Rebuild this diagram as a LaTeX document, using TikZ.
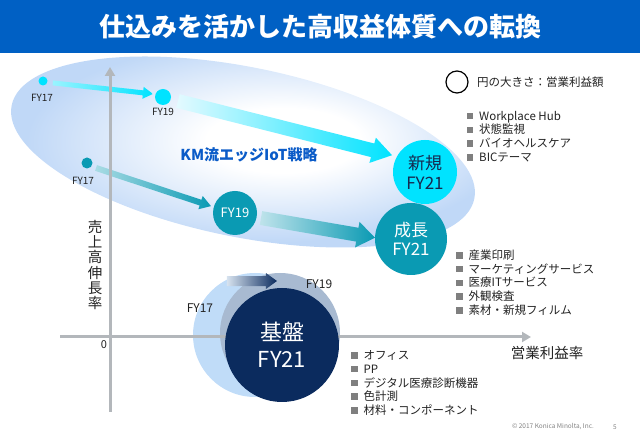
\documentclass[tikz,border=0pt]{standalone}
\usepackage{fontspec}
\setmainfont{Noto Sans CJK JP}
\usepackage{tikz}
\usetikzlibrary{arrows.meta,calc}
\definecolor{titlebg}{HTML}{0060C4}
\definecolor{ellblue}{HTML}{C0D8F7}
\definecolor{cyanc}{HTML}{00E3FF}
\definecolor{cyanl}{HTML}{E4FAFF}
\definecolor{tealc}{HTML}{0A9AB3}
\definecolor{teall}{HTML}{BFE3EB}
\definecolor{navyc}{HTML}{0B2B5E}
\definecolor{navyl}{HTML}{D6E2EF}
\definecolor{basel}{HTML}{C0DCF8}
\definecolor{baseg}{HTML}{A8BAD1}
\definecolor{axisgray}{HTML}{B3B7BB}
\definecolor{sqgray}{HTML}{7F7F7F}
\definecolor{kmblue}{HTML}{0A5BC8}
\definecolor{txt}{HTML}{222222}
\definecolor{newtxt}{HTML}{16284E}
\pgfdeclareradialshading{ellfade}{\pgfpoint{5bp}{1bp}}{color(0bp)=(white); color(8bp)=(white); color(25bp)=(ellblue); color(50bp)=(ellblue)}
\newcommand{\fatarrow}[7]{%
  \coordinate (fh) at ($(#2)!#5!(#1)$);
  \shade[left color=#6, right color=#7]
    ($(#1)!#3!90:(#2)$) -- ($(fh)!#3!90:(#2)$) -- ($(fh)!#4!90:(#2)$) -- (#2)
    -- ($(fh)!#4!-90:(#2)$) -- ($(fh)!#3!-90:(#2)$) -- ($(#1)!#3!-90:(#2)$) -- cycle;
}
\newcommand{\sq}{\textcolor{sqgray}{\rule[0.8pt]{6.5pt}{6.5pt}}\hspace{6pt}}
\tikzset{
  dot/.style ={circle, inner sep=0pt, align=center},
  lbl/.style ={font=\fontsize{10}{12}\selectfont, text=txt, inner sep=0pt},
  blbl/.style={font=\fontsize{12}{14}\selectfont, text=txt, inner sep=0pt},
  lst/.style ={anchor=west, align=left, inner sep=0pt, text=txt,
               font=\fontsize{11.5}{13.75}\selectfont},
  axis/.style={draw=axisgray, line width=3pt, -{Triangle[length=9pt,width=10pt]}},
}
\begin{document}
\begin{tikzpicture}[x=1pt,y=1pt]
\useasboundingbox (0,0) rectangle (640,-443);
\fill[titlebg] (0,0) rectangle (640,-53);
\node[text=white, font=\fontsize{26}{30}\selectfont\bfseries] (title) at (320,-27) {仕込みを活かした高収益体質への転換};
\shade[shading=ellfade, rotate around={-11.4:(243,-152)}] (243,-152) ellipse [x radius=236, y radius=85];
\node[dot, fill=cyanc, minimum size=9] (newA) at (43,-81) {};
\node[dot, fill=cyanc, minimum size=16] (newB) at (163,-97) {};
\node[dot, fill=cyanc, minimum size=64, text=newtxt, font=\fontsize{17}{20}\selectfont] (newC) at (425,-172) {新規\\FY21};
\node[dot, fill=tealc, minimum size=11] (growA) at (87,-163) {};
\node[dot, fill=tealc, minimum size=44, text=white, font=\fontsize{13}{15}\selectfont] (growB) at (235,-213) {FY19};
\node[dot, fill=tealc, minimum size=72, text=white, font=\fontsize{17}{19}\selectfont] (growC) at (411,-239) {成長\\FY21};
\coordinate (a1s) at ($(newA)+(-11:10)$);
\coordinate (a1e) at ($(newB)+(163:10.5)$);
\coordinate (a2s) at ($(newB)+(-15:15.5)$);
\coordinate (a2e) at ($(newC)+(153:37)$);
\coordinate (a3s) at ($(growA)+(-29:10.3)$);
\coordinate (a3e) at ($(growB)+(164:25)$);
\coordinate (a4s) at ($(growB)+(-11:26.5)$);
\coordinate (a4e) at ($(growC)+(178:36)$);
\fatarrow{a1s}{a1e}{2.5pt}{6pt}{10pt}{cyanc!40}{cyanc}
\fatarrow{a2s}{a2e}{7pt}{13pt}{20pt}{cyanl}{cyanc}
\fatarrow{a3s}{a3e}{3pt}{7pt}{11pt}{tealc!35}{tealc}
\fatarrow{a4s}{a4e}{7pt}{13pt}{18pt}{teall}{tealc}
\node[dot, fill=basel, minimum size=124] (baseA) at (255,-335) {};
\node[dot, fill=baseg, minimum size=120] (baseB) at (280,-333) {};
\coordinate (ybot) at (110,-412);
\coordinate (ytop) at (110,-67);
\coordinate (xl) at (60,-337);
\coordinate (xr) at (531,-337);
\draw[axis] (ybot) -- (ytop);
\draw[axis] (xl) -- (xr);
\node[dot, fill=navyc, minimum size=114, text=white, font=\fontsize{22}{27}\selectfont] (baseC) at (282,-345) {基盤\\FY21};
\coordinate (a5s) at ($(baseC)+(130.7:84.4)$);
\coordinate (a5e) at ($(baseC)+(94.5:64.2)$);
\fatarrow{a5s}{a5e}{5pt}{8pt}{11pt}{navyl}{navyc}
\node[lbl] (newAlbl) at (42,-98) {FY17};
\node[lbl] (newBlbl) at (163,-112) {FY19};
\node[lbl] (growAlbl) at (83,-181) {FY17};
\node[blbl] (baseAlbl) at (200,-308) {FY17};
\node[blbl] (baseBlbl) at (319,-284) {FY19};
\node[text=kmblue, font=\fontsize{15}{18}\selectfont\bfseries] (km) at (249,-155) {KM流エッジIoT戦略};
\node[dot, draw=black, line width=1.2pt, minimum size=22] (key) at (457,-82) {};
\node[lst] (keytxt) at (477,-82) {円の大きさ：営業利益額};
\node[lst] (newlist) at (466.5,-136.5) {\sq Workplace Hub\\ \sq 状態監視\\ \sq バイオヘルスケア\\ \sq BICテーマ};
\node[lst] (growlist) at (456,-282.5) {\sq 産業印刷\\ \sq マーケティングサービス\\ \sq 医療ITサービス\\ \sq 外観検査\\ \sq 素材・新規フィルム};
\node[lst] (baselist) at (351,-383) {\sq オフィス\\ \sq PP\\ \sq デジタル医療診断機器\\ \sq 色計測\\ \sq 材料・コンポーネント};
\node[align=center, text=txt, inner sep=0pt, font=\fontsize{14.5}{15.3}\selectfont] (ylab) at (95,-265) {売\\上\\高\\伸\\長\\率};
\node[text=txt, inner sep=0pt, font=\fontsize{14.5}{17}\selectfont] (xlab) at (547,-353) {営業利益率};
\node[text=txt, inner sep=0pt, font=\fontsize{11}{13}\selectfont] (zero) at (104,-345) {0};
\node[text=gray, inner sep=0pt, font=\fontsize{6.5}{8}\selectfont] (copy) at (553,-427) {© 2017 Konica Minolta, Inc.};
\node[text=gray, inner sep=0pt, font=\fontsize{6.5}{8}\selectfont] (page) at (615,-427) {5};
\end{tikzpicture}
\end{document}
